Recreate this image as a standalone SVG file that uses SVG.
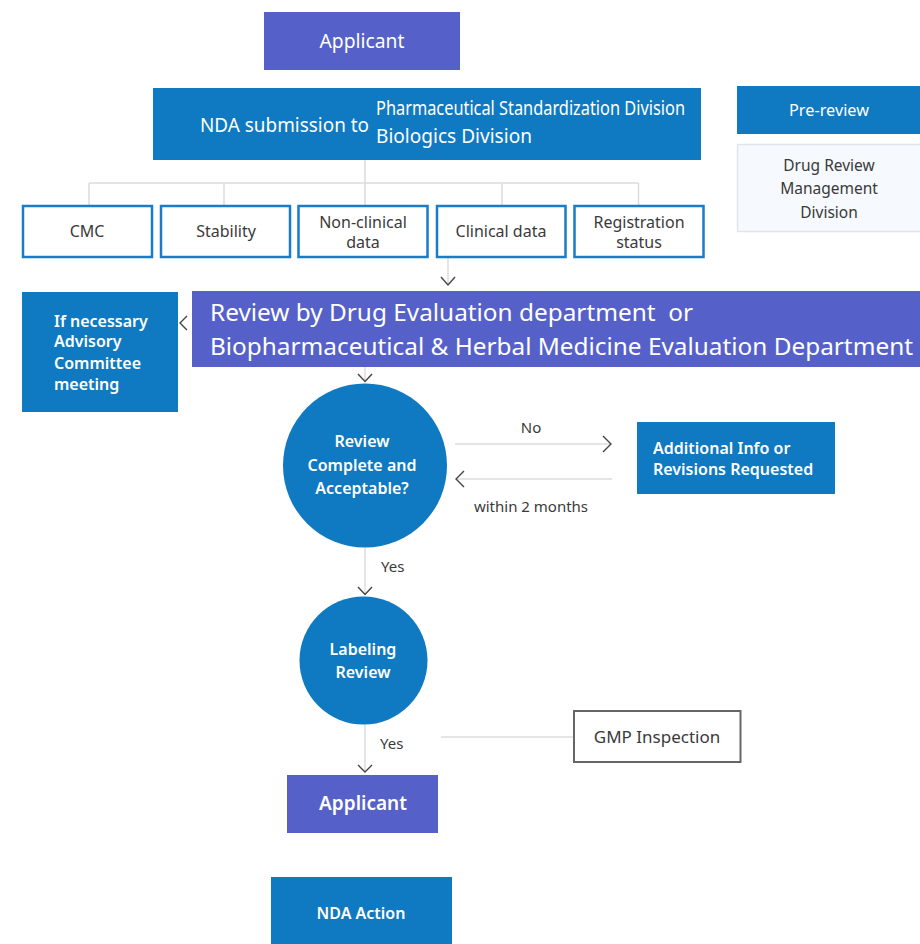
<svg xmlns="http://www.w3.org/2000/svg" width="920" height="944" viewBox="0 0 920 944">
  <style>
    text { font-family: "Noto Sans", "Open Sans", sans-serif; }
    .blue { fill: #0f79c1; }
    .purple { fill: #5561c9; }
    .wt { fill: #ffffff; }
    .dk { fill: #3a3a3a; }
    .mid { text-anchor: middle; }
    .item { fill: #ffffff; stroke: #1a7cc6; stroke-width: 2.5; }
    .link { fill: none; stroke: #dcdcdc; stroke-width: 1.5; }
    .chev { fill: none; stroke: #444444; stroke-width: 1.4; }
  </style>

  <rect width="920" height="944" fill="#ffffff"/>

  <!-- connectors -->
  <g id="connectors">
    <path class="link" d="M365 160 V183 M89 183 H638.5 M89 183 V205 M224 183 V205 M365 183 V205 M502 183 V205 M638.5 183 V205"/>
    <path class="link" d="M448 258 V284"/>
    <path class="chev" d="M441 277 L448 285 L455 277"/>
    <path class="chev" d="M187 316 L180 323 L187 330"/>
    <path class="link" d="M365 367 V381"/>
    <path class="chev" d="M358 374 L365 381.5 L372 374"/>
    <path class="link" d="M455 444 H610"/>
    <path class="chev" d="M603 436 L611 444 L603 452"/>
    <path class="link" d="M457 479 H612"/>
    <path class="chev" d="M464 471 L456 479 L464 487"/>
    <path class="link" d="M365 548 V594"/>
    <path class="chev" d="M358 587 L365 594.5 L372 587"/>
    <path class="link" d="M365 724 V771"/>
    <path class="chev" d="M358 765 L365 772 L372 765"/>
    <path class="link" d="M441 737 H573"/>
    <text class="dk mid" x="531" y="433" font-size="15">No</text>
    <text class="dk mid" x="531" y="512" font-size="15">within 2 months</text>
    <text class="dk" x="381" y="572" font-size="15">Yes</text>
    <text class="dk" x="380" y="749" font-size="15">Yes</text>
  </g>

  <g id="applicant-top">
    <rect class="purple" x="264" y="12" width="196" height="58"/>
    <text class="wt mid" x="362" y="48" font-size="20" textLength="85" lengthAdjust="spacingAndGlyphs">Applicant</text>
  </g>

  <g id="nda-submission">
    <rect class="blue" x="153" y="88" width="548" height="72"/>
    <text class="wt" x="200" y="132" font-size="20" textLength="169" lengthAdjust="spacingAndGlyphs">NDA submission to</text>
    <text class="wt" x="376" y="115" font-size="19" textLength="309" lengthAdjust="spacingAndGlyphs">Pharmaceutical Standardization Division</text>
    <text class="wt" x="376" y="143" font-size="19" textLength="156" lengthAdjust="spacingAndGlyphs">Biologics Division</text>
  </g>

  <g id="pre-review">
    <rect class="blue" x="737" y="86" width="190" height="48"/>
    <text class="wt mid" x="829" y="116" font-size="17" textLength="80" lengthAdjust="spacingAndGlyphs">Pre-review</text>
  </g>

  <g id="drug-review-management">
    <rect x="737.5" y="144.5" width="190" height="87" fill="#f6f9fd" stroke="#dde6ef" stroke-width="1.5"/>
    <text class="dk mid" x="829" y="171" font-size="15.5">Drug Review</text>
    <text class="dk mid" x="829" y="194" font-size="15.5">Management</text>
    <text class="dk mid" x="829" y="218" font-size="15.5">Division</text>
  </g>

  <g id="cmc">
    <rect class="item" x="23" y="206" width="129" height="51"/>
    <text class="dk mid" x="87" y="237" font-size="16">CMC</text>
  </g>
  <g id="stability">
    <rect class="item" x="161" y="206" width="129" height="51"/>
    <text class="dk mid" x="226" y="237" font-size="16">Stability</text>
  </g>
  <g id="non-clinical">
    <rect class="item" x="298.5" y="206" width="129" height="51"/>
    <text class="dk mid" x="363" y="228" font-size="16">Non-clinical</text>
    <text class="dk mid" x="363" y="248" font-size="16">data</text>
  </g>
  <g id="clinical">
    <rect class="item" x="437" y="206" width="128.5" height="51"/>
    <text class="dk mid" x="501" y="237" font-size="16">Clinical data</text>
  </g>
  <g id="registration">
    <rect class="item" x="574.5" y="206" width="129" height="51"/>
    <text class="dk mid" x="639" y="228" font-size="16">Registration</text>
    <text class="dk mid" x="639" y="248" font-size="16">status</text>
  </g>

  <g id="advisory">
    <rect class="blue" x="22" y="292" width="156" height="120"/>
    <text class="wt" x="54" y="327" font-size="16" font-weight="600">If necessary</text>
    <text class="wt" x="54" y="347" font-size="16" font-weight="600">Advisory</text>
    <text class="wt" x="54" y="369" font-size="16" font-weight="600">Committee</text>
    <text class="wt" x="54" y="390" font-size="16" font-weight="600">meeting</text>
  </g>

  <g id="review-department">
    <rect class="purple" x="192" y="291" width="728" height="76"/>
    <text class="wt" x="210" y="321" font-size="24" textLength="483" lengthAdjust="spacingAndGlyphs" xml:space="preserve">Review by Drug Evaluation department  or</text>
    <text class="wt" x="210" y="355" font-size="24" textLength="703" lengthAdjust="spacingAndGlyphs">Biopharmaceutical &amp; Herbal Medicine Evaluation Department</text>
  </g>

  <g id="review-decision">
    <circle class="blue" cx="365" cy="465.5" r="82"/>
    <text class="wt mid" x="362" y="447" font-size="16" font-weight="600">Review</text>
    <text class="wt mid" x="362" y="471" font-size="16" font-weight="600">Complete and</text>
    <text class="wt mid" x="362" y="494" font-size="16" font-weight="600">Acceptable?</text>
  </g>

  <g id="additional-info">
    <rect class="blue" x="637" y="422" width="198" height="72"/>
    <text class="wt" x="653" y="454" font-size="16" font-weight="600">Additional Info or</text>
    <text class="wt" x="653" y="475" font-size="16" font-weight="600">Revisions Requested</text>
  </g>

  <g id="labeling-review">
    <circle class="blue" cx="363.5" cy="660.5" r="64"/>
    <text class="wt mid" x="363" y="655" font-size="16" font-weight="600">Labeling</text>
    <text class="wt mid" x="363" y="678" font-size="16" font-weight="600">Review</text>
  </g>

  <g id="gmp-inspection">
    <rect x="574" y="711" width="166.5" height="51" fill="#ffffff" stroke="#666666" stroke-width="2"/>
    <text class="dk mid" x="657" y="743" font-size="17">GMP Inspection</text>
  </g>

  <g id="applicant-bottom">
    <rect class="purple" x="287" y="775" width="151" height="58"/>
    <text class="wt mid" x="363" y="810" font-size="19" font-weight="600">Applicant</text>
  </g>

  <g id="nda-action">
    <rect class="blue" x="271" y="877" width="181" height="67"/>
    <text class="wt mid" x="361" y="919" font-size="16" font-weight="600">NDA Action</text>
  </g>
</svg>
